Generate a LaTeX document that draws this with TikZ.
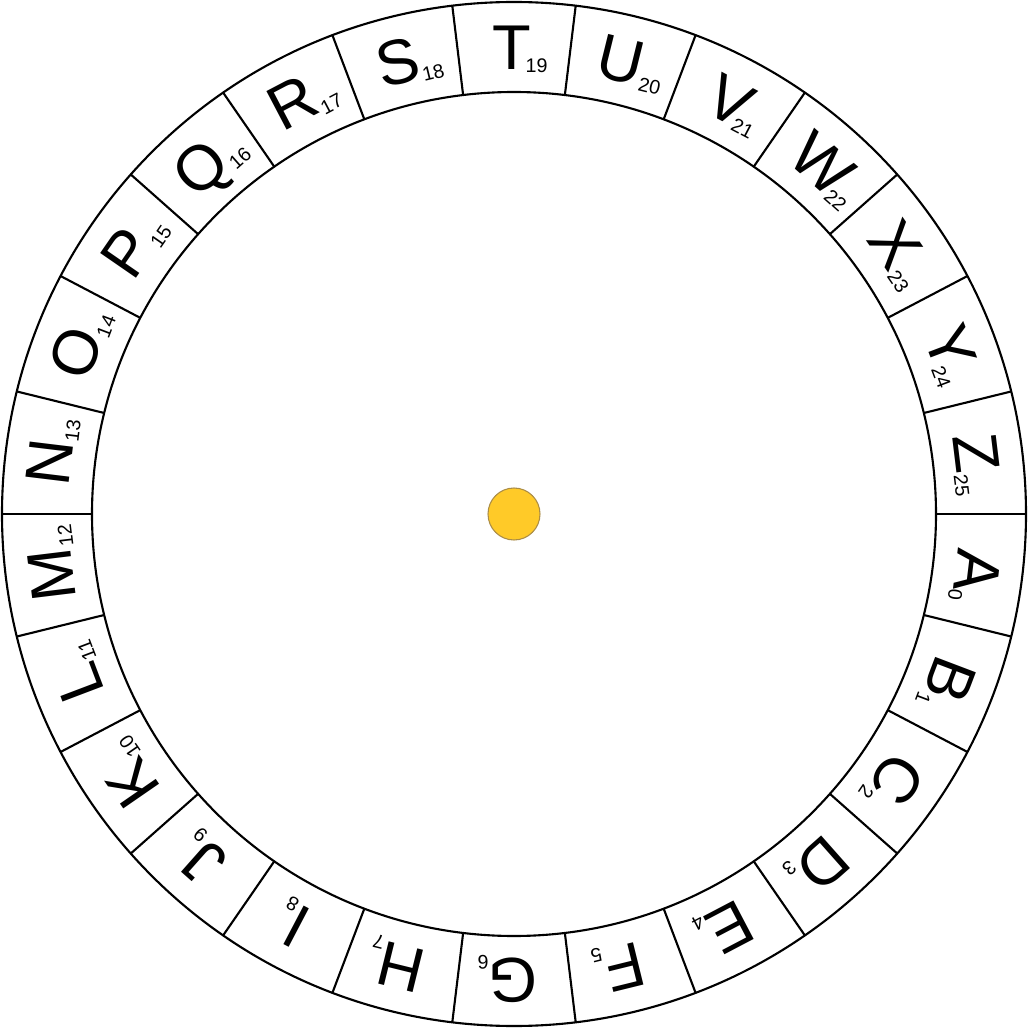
\documentclass[tikz,border=0pt]{standalone}
\usepackage{fontspec}
\setmainfont{Liberation Sans}
\usetikzlibrary{calc}
\definecolor{hubyellow}{RGB}{255,202,40}
\definecolor{hubrim}{RGB}{170,140,70}

\begin{document}
\begin{tikzpicture}[
    ring/.style={line width=0.6pt},
    glyph/.style={font=\fontsize{18}{20}\selectfont, inner sep=0pt, anchor=base},
    idx/.style={}]
\useasboundingbox (-5.14,-5.14) rectangle (5.14,5.14);

% Outer and inner rings
\draw[ring] (0,0) circle (5.12);
\draw[ring] (0,0) circle (4.22);

% Hub
\fill[hubyellow, draw=hubrim, line width=0.3pt] (0,0) circle (0.26);

% Letters, clockwise, T at the top
\foreach \l/\k [count=\n from 0] in {A/0,B/0,C/0,D/0,E/0,F/0,G/0,H/0,I/0,J/0,K/0,L/0,M/0,
    N/0,O/0,P/0,Q/0,R/0,S/0,T/-1.7,U/0,V/-2.5,W/-2,X/0,Y/-2,Z/0}{
  \pgfmathsetmacro{\a}{90+(19-\n)*360/26}
  \draw[ring] (\a+180/26:4.22) -- (\a+180/26:5.12);
  \node[glyph, rotate=\a-90] (L\n) at (\a-0.8:4.45)
    {\l\kern\k pt\raisebox{-1.1pt}{\fontsize{5.6}{6}\selectfont\n}};
}

\end{tikzpicture}
\end{document}
